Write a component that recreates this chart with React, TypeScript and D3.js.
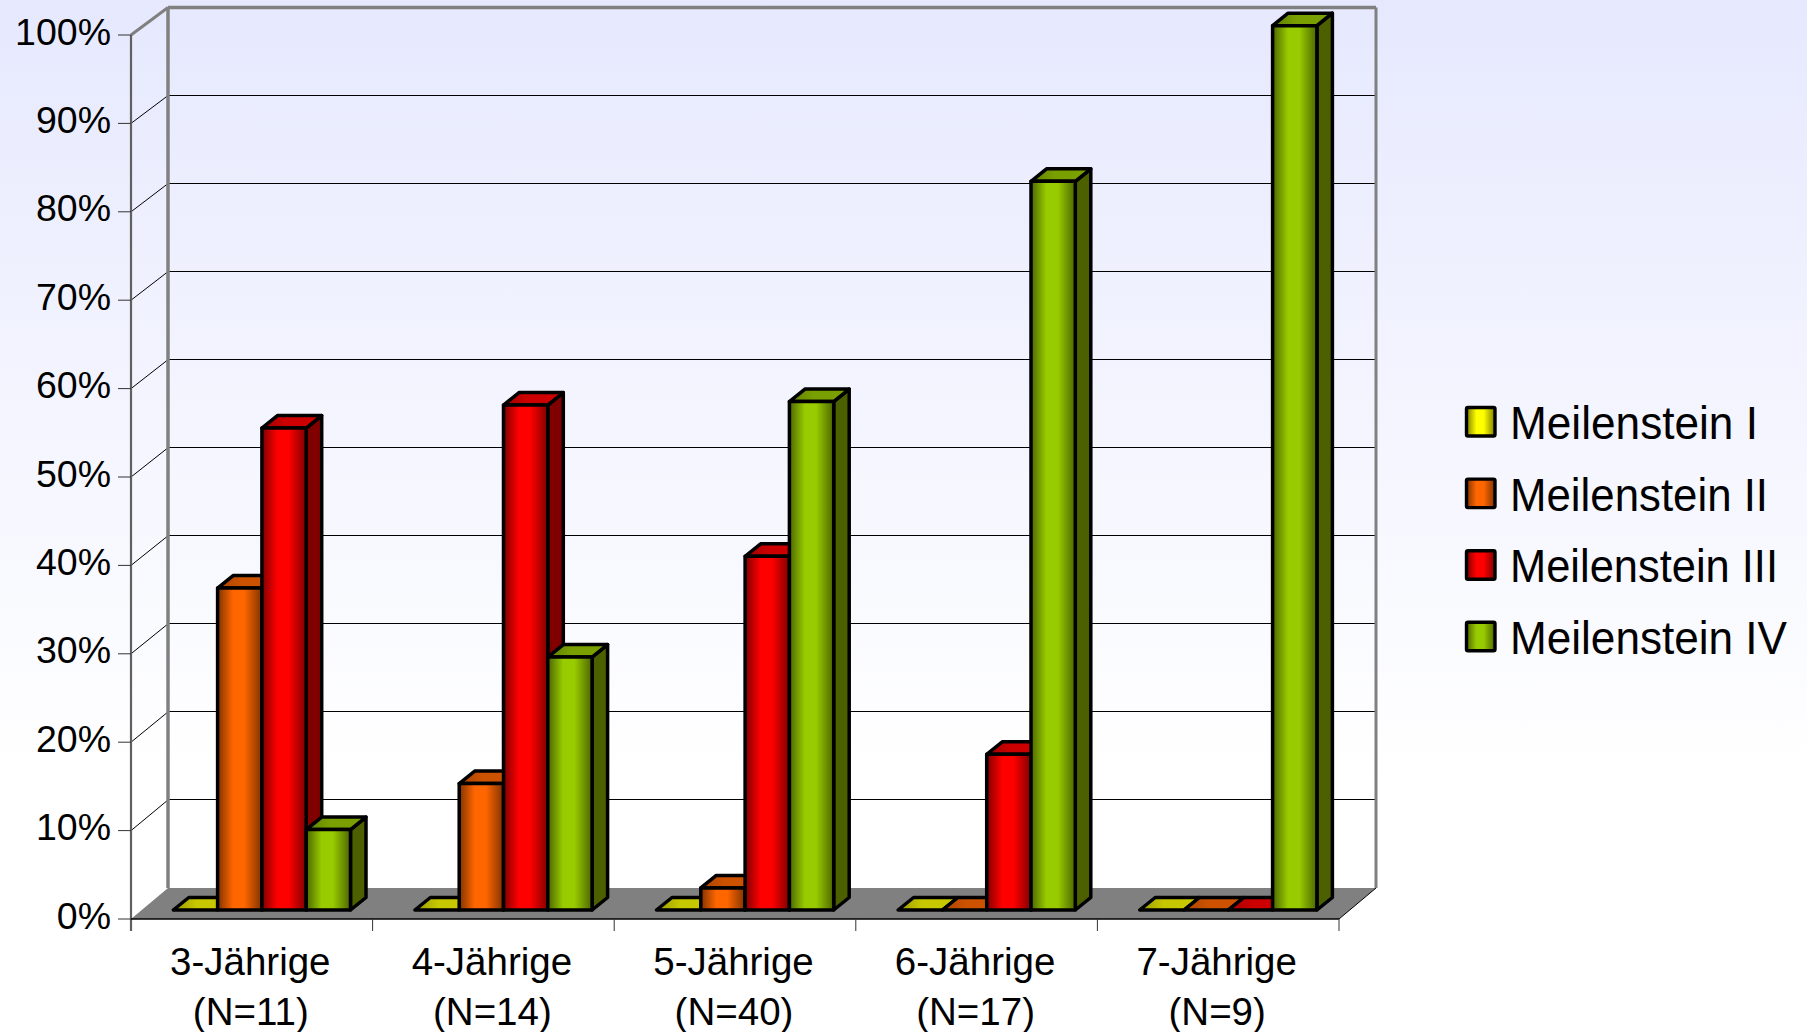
import React from "react";
import * as d3 from "d3";

const ageGroups = ["3-Jährige", "4-Jährige", "5-Jährige", "6-Jährige", "7-Jährige"];
const sampleSizes = ["(N=11)", "(N=14)", "(N=40)", "(N=17)", "(N=9)"];
const percentTicks = [0, 10, 20, 30, 40, 50, 60, 70, 80, 90, 100];

const milestoneNames = ["Meilenstein I", "Meilenstein II", "Meilenstein III", "Meilenstein IV"];
const milestone1 = [0, 0, 0, 0, 0];
const milestone2 = [36.4, 14.3, 2.5, 0, 0];
const milestone3 = [54.5, 57.1, 40, 17.6, 0];
const milestone4 = [9.1, 28.6, 57.5, 82.4, 100];
const milestoneValues = [milestone1, milestone2, milestone3, milestone4];

// edge shade, centre shade, top face dark / light, side face
const shades = [
  { edge: "#7f7f00", mid: "#ffff00", topA: "#9a9a00", topB: "#c8c800", side: "#6a6a00" },
  { edge: "#803300", mid: "#ff6600", topA: "#a84400", topB: "#cc5200", side: "#803300" },
  { edge: "#800000", mid: "#ff0000", topA: "#a00000", topB: "#cc0000", side: "#800000" },
  { edge: "#4c6600", mid: "#99cc00", topA: "#5f7f00", topB: "#7a9f00", side: "#4c6000" },
];

const WIDTH = 1807;
const HEIGHT = 1032;

// Three parallel planes of the 3D box: front edge, bars and back wall
const frontY = d3.scaleLinear().domain([0, 100]).range([919, 35]);
const backY = d3.scaleLinear().domain([0, 100]).range([888, 7.5]);
const barY = d3.scaleLinear().domain([0, 100]).range([910, 25.7]);
const groupX = d3.scaleBand<string>().domain(ageGroups).range([131, 1339]);
const BACK_DX = 37;
const BAR_W = 44.3;
const BAR_START = 42.3;
const DEPTH_X = 15.5;
const DEPTH_Y = 12.5;

const LEFT = 131;
const RIGHT = 1339;
const FONT = "'Liberation Sans', Arial, sans-serif";

const pts = (p: number[][]) => p.map((q) => q.join(",")).join(" ");

function Bar({ x, value, s }: { x: number; value: number; s: number }) {
  const top = barY(value);
  const base = barY(0);
  const x1 = x + BAR_W;
  const stroke = { stroke: "#000", strokeWidth: 3.5, strokeLinejoin: "round" as const };
  return (
    <g>
      {value > 0 && (
        <polygon
          points={pts([[x1, top], [x1 + DEPTH_X, top - DEPTH_Y], [x1 + DEPTH_X, base - DEPTH_Y], [x1, base]])}
          fill={shades[s].side}
          {...stroke}
        />
      )}
      <polygon
        points={pts([[x, top], [x + DEPTH_X, top - DEPTH_Y], [x1 + DEPTH_X, top - DEPTH_Y], [x1, top]])}
        fill={`url(#top${s})`}
        {...stroke}
      />
      {value > 0 && (
        <rect x={x} y={top} width={BAR_W} height={base - top} fill={`url(#face${s})`} {...stroke} />
      )}
    </g>
  );
}

export default function App() {
  const step = groupX.step();
  return (
    <svg
      width={WIDTH}
      height={HEIGHT}
      viewBox={`0 0 ${WIDTH} ${HEIGHT}`}
      style={{ position: "fixed", left: 0, top: 0, display: "block" }}
      fontFamily={FONT}
    >
      <defs>
        <linearGradient id="page" x1="0" y1="0" x2="0" y2="1">
          <stop offset="0" stopColor="#e6e9fe" />
          <stop offset="0.75" stopColor="#ffffff" />
          <stop offset="1" stopColor="#ffffff" />
        </linearGradient>
        {shades.map((c, i) => (
          <React.Fragment key={i}>
            <linearGradient id={`face${i}`} x1="0" y1="0" x2="1" y2="0">
              <stop offset="0" stopColor={c.edge} />
              <stop offset="0.35" stopColor={c.mid} />
              <stop offset="0.6" stopColor={c.mid} />
              <stop offset="1" stopColor={c.edge} />
            </linearGradient>
            <linearGradient id={`top${i}`} x1="0" y1="0" x2="1" y2="0">
              <stop offset="0" stopColor={c.topA} />
              <stop offset="0.4" stopColor={c.topB} />
              <stop offset="1" stopColor={c.topB} />
            </linearGradient>
          </React.Fragment>
        ))}
      </defs>

      <rect width={WIDTH} height={HEIGHT} fill="url(#page)" />

      {/* floor */}
      <polygon
        points={pts([[LEFT, frontY(0)], [LEFT + BACK_DX, backY(0)], [RIGHT + BACK_DX, backY(0)], [RIGHT, frontY(0)]])}
        fill="#808080"
      />

      {/* gridlines on the back wall and the left wall */}
      {percentTicks.filter((t) => t > 0 && t < 100).map((t) => (
        <g key={t} stroke="#000" strokeWidth={1} fill="none">
          <line x1={LEFT} y1={frontY(t)} x2={LEFT + BACK_DX} y2={backY(t)} />
          <line
            x1={LEFT + BACK_DX}
            y1={Math.round(backY(t)) - 0.5}
            x2={RIGHT + BACK_DX}
            y2={Math.round(backY(t)) - 0.5}
          />
        </g>
      ))}

      {/* wall frame */}
      <g stroke="#808080" fill="none">
        <line x1={LEFT + BACK_DX} y1={backY(100)} x2={LEFT + BACK_DX} y2={backY(0)} strokeWidth={3.5} />
        <line x1={LEFT + BACK_DX} y1={backY(100)} x2={RIGHT + BACK_DX} y2={backY(100)} strokeWidth={3.5} />
        <line x1={RIGHT + BACK_DX} y1={backY(100)} x2={RIGHT + BACK_DX} y2={backY(0)} strokeWidth={3} />
        <line x1={LEFT} y1={frontY(100)} x2={LEFT + BACK_DX} y2={backY(100)} strokeWidth={3} />
      </g>
      <line x1={RIGHT} y1={frontY(0)} x2={RIGHT + BACK_DX} y2={backY(0)} stroke="#000" strokeWidth={1} />

      {/* value axis */}
      <line x1={LEFT} y1={frontY(100)} x2={LEFT} y2={frontY(0) + 12} stroke="#606060" strokeWidth={2.2} />
      {percentTicks.map((t) => (
        <g key={t}>
          <line x1={LEFT - 13} y1={frontY(t)} x2={LEFT} y2={frontY(t)} stroke="#333" strokeWidth={1} />
          <text x={111} y={frontY(t) + 9.5} textAnchor="end" fontSize={37.5} fill="#000">
            {t}%
          </text>
        </g>
      ))}

      {/* category axis */}
      <line x1={LEFT} y1={frontY(0)} x2={RIGHT} y2={frontY(0)} stroke="#000" strokeWidth={1.5} />
      {ageGroups.map((g, i) => (
        <g key={g}>
          <line
            x1={(groupX(g) as number) + step}
            y1={frontY(0)}
            x2={(groupX(g) as number) + step}
            y2={frontY(0) + 12}
            stroke="#333"
            strokeWidth={1}
          />
          <text x={(groupX(g) as number) + step / 2 - 1.5} y={975} textAnchor="middle" fontSize={38.5} fill="#000">
            {g}
          </text>
          <text x={(groupX(g) as number) + step / 2 - 1} y={1025} textAnchor="middle" fontSize={38.5} fill="#000">
            {sampleSizes[i]}
          </text>
        </g>
      ))}

      {/* bars, painted left to right so each one covers its neighbour's side */}
      {ageGroups.map((g, gi) =>
        milestoneValues.map((vals, s) => (
          <Bar
            key={`${g}-${s}`}
            x={(groupX(g) as number) + BAR_START + s * BAR_W}
            value={vals[gi]}
            s={s}
          />
        ))
      )}

      {/* legend */}
      {milestoneNames.map((name, i) => {
        const y = 407.5 + i * 71.6;
        return (
          <g key={name}>
            <rect
              x={1466.5}
              y={y}
              width={28.5}
              height={28.5}
              rx={1.5}
              fill={`url(#face${i})`}
              stroke="#000"
              strokeWidth={3.4}
            />
            <text
              x={1510}
              y={y + 31.5}
              fontSize={47}
              fill="#000"
              textLength={[248, 258, 268, 277][i]}
              lengthAdjust="spacingAndGlyphs"
            >
              {name}
            </text>
          </g>
        );
      })}
    </svg>
  );
}
